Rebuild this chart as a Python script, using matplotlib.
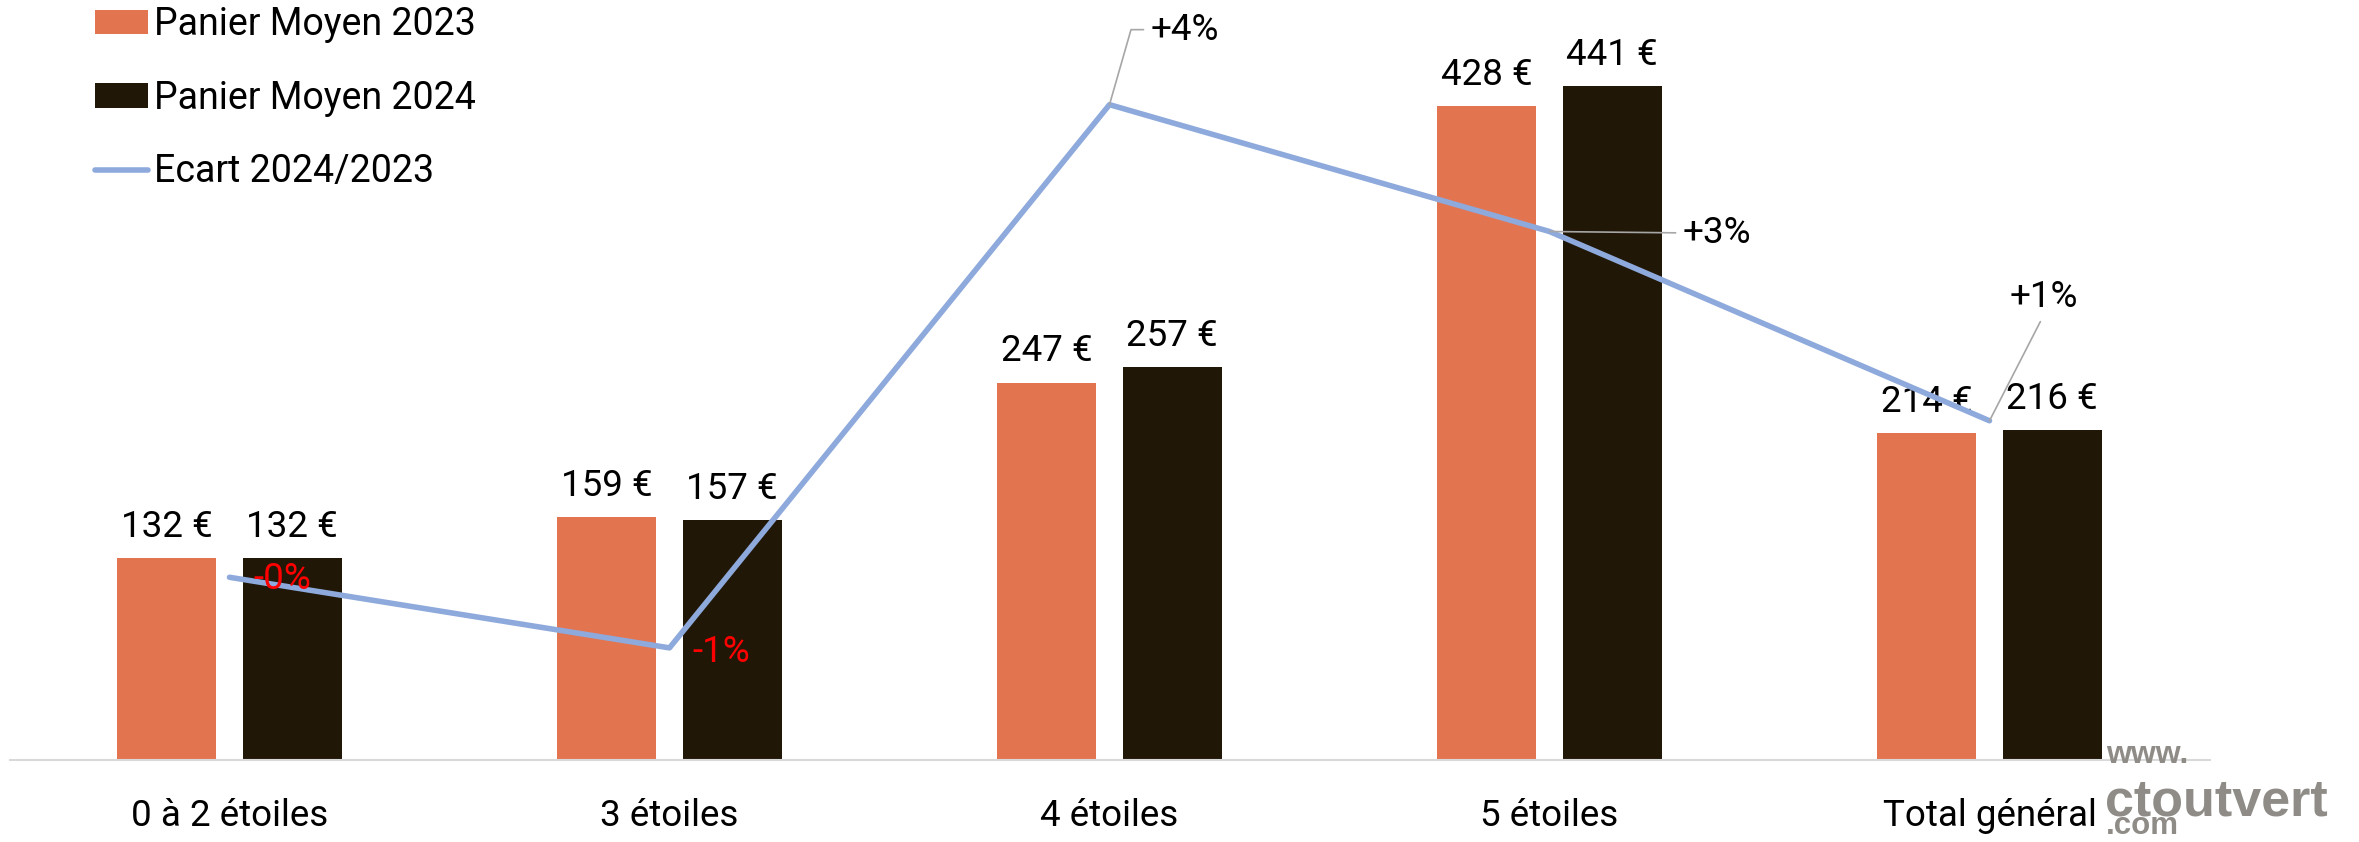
import numpy as np
import matplotlib
matplotlib.use('Agg')
import matplotlib.pyplot as plt

plt.rcParams['font.family'] = ['Roboto', 'DejaVu Sans']

# données
categories = ['0 à 2 étoiles', '3 étoiles', '4 étoiles', '5 étoiles', 'Total général']
panier_2023 = [132, 159, 247, 428, 214]
panier_2024 = [132, 157, 257, 441, 216]
ecart = [-0.57, -1.26, 4.05, 2.81, 0.96]      # position de la courbe, en %
ecart_labels = ['-0%', '-1%', '+4%', '+3%', '+1%']

c23 = '#E37450'
c24 = '#201707'
c_line = '#8EA9DB'
fs = 26.5

W, H = 2359, 842
fig = plt.figure(figsize=(W / 100, H / 100), dpi=100)
ax = fig.add_axes([9.5 / W, 82 / H, 2200 / W, 760 / H])

x = np.arange(len(categories))
w = 0.225
off = 0.1425
b1 = ax.bar(x - off, panier_2023, w, color=c23, label='Panier Moyen 2023', zorder=2)
b2 = ax.bar(x + off, panier_2024, w, color=c24, label='Panier Moyen 2024', zorder=2)
ax.bar_label(b1, labels=[f'{v} €' for v in panier_2023], padding=9.5, fontsize=fs)
ax.bar_label(b2, labels=[f'{v} €' for v in panier_2024], padding=9.5, fontsize=fs)

ax.set_xlim(-0.5, 4.5)
ax.set_ylim(0, 497.4)
ax.set_yticks([])
ax.set_xticks(x, categories, fontsize=fs)
ax.tick_params(axis='x', length=0, pad=27)
for s in ['top', 'right', 'left']:
    ax.spines[s].set_visible(False)
ax.spines['bottom'].set_color('#D9D9D9')
ax.spines['bottom'].set_linewidth(1.5)

# courbe de l'écart sur un axe secondaire
ax2 = ax.twinx()
ax2.set_ylim(-2.356, 5.073)
ax2.set_yticks([])
for s in ax2.spines.values():
    s.set_visible(False)
line, = ax2.plot(x, ecart, color=c_line, lw=4, solid_capstyle='round',
                 solid_joinstyle='round', label='Ecart 2024/2023')

# étiquettes de l'écart (décalages en points)
offsets = [(17, -1), (16.5, -3), (29.5, 54), (95.8, -1), (39, 89)]
leaders = [None, None, 'angle,angleA=0,angleB=74,rad=0', 'arc3', 'arc3']
for i, lab in enumerate(ecart_labels):
    col = 'red' if lab.startswith('-') else 'black'
    kw = dict(ha='left', va='center')
    if i == 4:
        kw = dict(ha='center', va='center')
    ap = None
    if leaders[i]:
        ap = dict(arrowstyle='-', color='#A6A6A6', lw=1.2, shrinkA=3, shrinkB=0,
                  connectionstyle=leaders[i],
                  relpos=(0.5, 0) if i == 4 else (0, 0.5))
    ax2.annotate(lab, xy=(x[i], ecart[i]), xytext=offsets[i], textcoords='offset points',
                 fontsize=fs, color=col, arrowprops=ap, zorder=5, **kw)

fig.legend([b1, b2, line], ['Panier Moyen 2023', 'Panier Moyen 2024', 'Ecart 2024/2023'],
           loc='upper left', bbox_to_anchor=(95 / W, 1 - 6 / H), frameon=False,
           fontsize=27, handlelength=1.4, handleheight=0.62, handletextpad=0.16,
           labelspacing=0.98, borderpad=0, borderaxespad=0)

# filigrane
wm = '#8F8C87'
fig.text(2106 / W, (H - 763) / H, 'www.', fontsize=23, color=wm, weight='bold',
         family='Liberation Sans', ha='left', va='baseline')
fig.text(2105 / W, (H - 815) / H, 'ctoutvert', fontsize=37.5, color=wm, weight='bold',
         family='Liberation Sans', ha='left', va='baseline')
fig.text(2106 / W, 1 / H, '.com', fontsize=22.5, color=wm, weight='bold',
         family='Liberation Sans', ha='left', va='bottom')

fig.savefig('out.png', dpi=100)
